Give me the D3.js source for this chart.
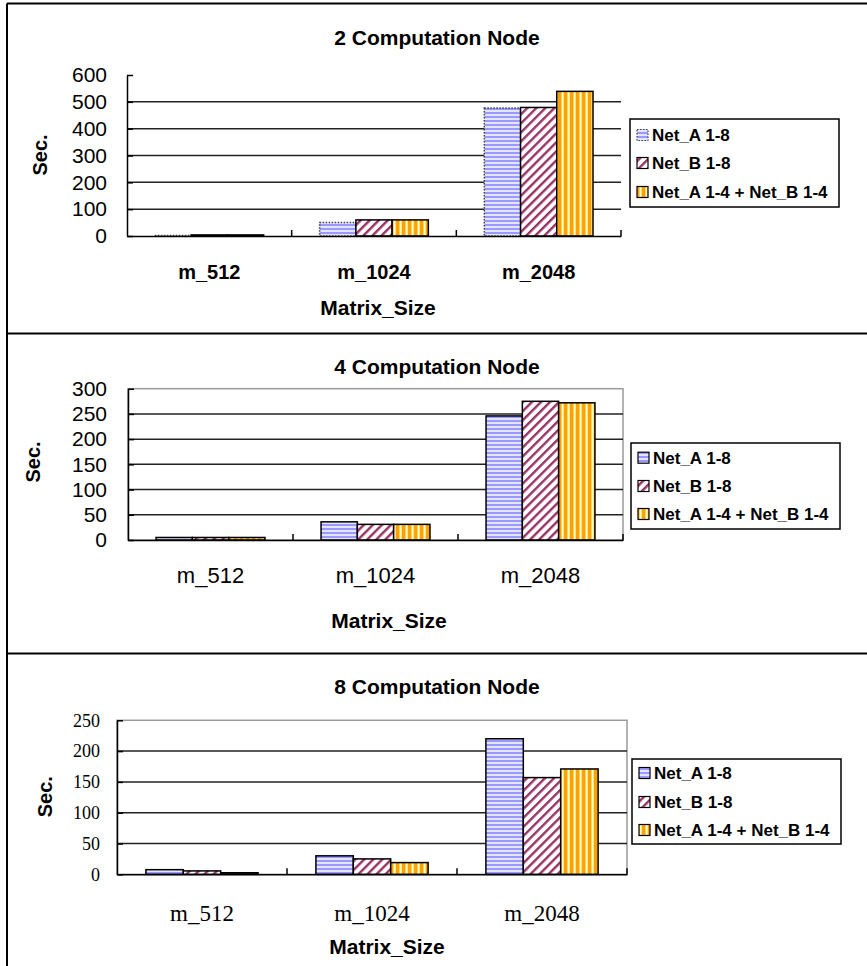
<!DOCTYPE html>
<html>
<head>
<meta charset="utf-8">
<script src="https://cdn.jsdelivr.net/npm/d3@7"></script>
<style>
  html, body { margin: 0; padding: 0; background: #fff; }
  svg { display: block; }
</style>
</head>
<body>
<svg id="chart" width="867" height="966"></svg>
<script>
// ---------------- DATA ----------------
const categories = ["m_512", "m_1024", "m_2048"];
const seriesNames = ["Net_A 1-8", "Net_B 1-8", "Net_A 1-4 + Net_B 1-4"];

const titles = ["2 Computation Node", "4 Computation Node", "8 Computation Node"];
const xTitle = "Matrix_Size";
const yTitle = "Sec.";

// 2 computation nodes
const node2_netA = [2, 50, 477];
const node2_netB = [4, 60, 479];
const node2_mix  = [4, 60, 539];
// 4 computation nodes
const node4_netA = [5, 36, 246];
const node4_netB = [5, 31, 275];
const node4_mix  = [5, 31, 272];
// 8 computation nodes
const node8_netA = [7.5, 30, 220];
const node8_netB = [5.5, 25, 157];
const node8_mix  = [2.5, 19, 171];

const ticks2 = [0, 100, 200, 300, 400, 500, 600];
const ticks4 = [0, 50, 100, 150, 200, 250, 300];
const ticks8 = [0, 50, 100, 150, 200, 250];

// ---------------- LAYOUT (positions / styles) ----------------
const SANS = "'Liberation Sans', Arial, Helvetica, sans-serif";
const SERIF = "'Liberation Serif', 'Times New Roman', serif";

const panels = [
  {
    values: [node2_netA, node2_netB, node2_mix], ticks: ticks2, title: titles[0],
    x0: 127, x1: 621, yTop: 75, yBot: 236,
    titleX: 437, titleY: 37,
    tickFont: SANS, tickSize: 21, tickPad: 20,
    catFont: SANS, catSize: 20, catWeight: "bold", catPad: 29,
    xtX: 378, xtY: 307, ytX: 40, ytY: 155,
    legend: { x: 630, y: 119, w: 209, h: 88, items: [135, 163, 192] },
    border: false, dottedA: true
  },
  {
    values: [node4_netA, node4_netB, node4_mix], ticks: ticks4, title: titles[1],
    x0: 128, x1: 623, yTop: 388.7, yBot: 540,
    titleX: 437, titleY: 366.7,
    tickFont: SANS, tickSize: 21, tickPad: 21,
    catFont: SANS, catSize: 22, catWeight: "normal", catPad: 27,
    xtX: 389, xtY: 620.7, ytX: 33, ytY: 462,
    legend: { x: 631, y: 443, w: 209, h: 86, items: [457.7, 486, 514] },
    border: true, dottedA: false
  },
  {
    values: [node8_netA, node8_netB, node8_mix], ticks: ticks8, title: titles[2],
    x0: 117, x1: 627, yTop: 720.3, yBot: 874.3,
    titleX: 437, titleY: 686.7,
    tickFont: SERIF, tickSize: 18, tickPad: 17,
    catFont: SERIF, catSize: 23, catWeight: "normal", catPad: 30,
    xtX: 387, xtY: 946.7, ytX: 45, ytY: 796.7,
    legend: { x: 632, y: 759, w: 209, h: 85, items: [773, 802, 830] },
    border: true, dottedA: false
  }
];

const svg = d3.select("#chart");

// ---------------- PATTERNS ----------------
const defs = svg.append("defs");
// Net_A: horizontal blue stripes
const pA = defs.append("pattern").attr("id", "patA")
  .attr("patternUnits", "userSpaceOnUse").attr("width", 8).attr("height", 4);
pA.append("rect").attr("width", 8).attr("height", 4).attr("fill", "#e4e4ff");
pA.append("rect").attr("width", 8).attr("height", 2).attr("fill", "#9999ff");
// Net_B: diagonal maroon stripes on white
const pB = defs.append("pattern").attr("id", "patB")
  .attr("patternUnits", "userSpaceOnUse").attr("width", 6.4).attr("height", 6.4)
  .attr("patternTransform", "rotate(45)");
pB.append("rect").attr("width", 6.4).attr("height", 6.4).attr("fill", "#ffffff");
pB.append("rect").attr("width", 2.4).attr("height", 6.4).attr("fill", "#993366");
// Net_A 1-4 + Net_B 1-4: orange with pale yellow vertical stripes
const pC = defs.append("pattern").attr("id", "patC")
  .attr("patternUnits", "userSpaceOnUse").attr("width", 6).attr("height", 8);
pC.append("rect").attr("width", 6).attr("height", 8).attr("fill", "#ffa200");
pC.append("rect").attr("x", 3.5).attr("width", 2.2).attr("height", 8).attr("fill", "#ffffc8");

const fills = ["url(#patA)", "url(#patB)", "url(#patC)"];

// ---------------- FRAMES ----------------
const frame = svg.append("g").attr("fill", "none").attr("stroke", "#000").attr("stroke-width", 2);
frame.append("line").attr("x1", 7).attr("x2", 870).attr("y1", 3.5).attr("y2", 3.5);
frame.append("line").attr("x1", 7).attr("x2", 870).attr("y1", 333.5).attr("y2", 333.5);
frame.append("line").attr("x1", 7).attr("x2", 870).attr("y1", 653.5).attr("y2", 653.5);
frame.append("line").attr("x1", 7).attr("x2", 7).attr("y1", 3.5).attr("y2", 970);

// ---------------- PANELS ----------------
panels.forEach(p => {
  const g = svg.append("g");
  const x = d3.scaleBand().domain(categories).range([p.x0, p.x1])
    .paddingInner(0.34).paddingOuter(0.17);
  const xs = d3.scaleBand().domain(d3.range(seriesNames.length)).range([0, x.bandwidth()]);
  const y = d3.scaleLinear().domain([0, d3.max(p.ticks)]).range([p.yBot, p.yTop]);

  // plot border (grey) for panels 2 and 3
  if (p.border) {
    g.append("rect").attr("x", p.x0).attr("y", y(d3.max(p.ticks)))
      .attr("width", p.x1 - p.x0).attr("height", p.yBot - y(d3.max(p.ticks)))
      .attr("fill", "none").attr("stroke", "#9a9a9a").attr("stroke-width", 1.5);
  }

  // gridlines
  g.append("g").selectAll("line")
    .data(p.ticks.filter(t => t > 0 && t < d3.max(p.ticks)))
    .join("line")
    .attr("x1", p.x0).attr("x2", p.x1)
    .attr("y1", d => y(d)).attr("y2", d => y(d))
    .attr("stroke", "#222").attr("stroke-width", 1.5);

  // bars
  p.values.forEach((vals, si) => {
    g.append("g").selectAll("rect")
      .data(categories.map((c, i) => ({ c, v: vals[i] })))
      .join("rect")
      .attr("x", d => x(d.c) + xs(si))
      .attr("y", d => y(d.v))
      .attr("width", xs.bandwidth())
      .attr("height", d => y(0) - y(d.v))
      .attr("fill", fills[si])
      .attr("stroke", (si === 0 && p.dottedA) ? "#444" : "#000")
      .attr("stroke-width", (si === 0 && p.dottedA) ? 1.5 : 1.5)
      .attr("stroke-dasharray", (si === 0 && p.dottedA) ? "1.5,1.5" : null);
  });

  // y axis
  const yAxis = d3.axisLeft(y).tickValues(p.ticks).tickSizeInner(-6).tickSizeOuter(0).tickPadding(p.tickPad);
  const ya = g.append("g").attr("transform", `translate(${p.x0},0)`).call(yAxis);
  ya.select(".domain").attr("stroke", "#000").attr("stroke-width", 1.5);
  ya.selectAll(".tick line").attr("stroke", "#000").attr("stroke-width", 1.5);
  ya.selectAll(".tick text").attr("font-family", p.tickFont).attr("font-size", p.tickSize)
    .attr("fill", "#000");

  // x axis (labels)
  const xAxis = d3.axisBottom(x).tickSize(0).tickPadding(p.catPad);
  const xa = g.append("g").attr("transform", `translate(0,${p.yBot})`).call(xAxis);
  xa.select(".domain").attr("stroke", "#000").attr("stroke-width", 1.5);
  xa.selectAll(".tick text").attr("font-family", p.catFont).attr("font-size", p.catSize)
    .attr("font-weight", p.catWeight).attr("fill", "#000");
  // x boundary ticks (inside)
  g.append("g").selectAll("line")
    .data(d3.range(1, categories.length + 1))
    .join("line")
    .attr("x1", i => x.range()[0] + i * x.step()).attr("x2", i => x.range()[0] + i * x.step())
    .attr("y1", p.yBot).attr("y2", p.yBot - 6)
    .attr("stroke", "#000").attr("stroke-width", 1.5);

  // titles
  g.append("text").attr("x", p.titleX).attr("y", p.titleY).attr("dy", "0.36em")
    .attr("text-anchor", "middle").attr("font-family", SANS).attr("font-weight", "bold")
    .attr("font-size", 21).text(p.title);
  g.append("text").attr("x", p.xtX).attr("y", p.xtY).attr("dy", "0.36em")
    .attr("text-anchor", "middle").attr("font-family", SANS).attr("font-weight", "bold")
    .attr("font-size", 21).text(xTitle);
  g.append("text").attr("transform", `translate(${p.ytX},${p.ytY}) rotate(-90)`).attr("dy", "0.36em")
    .attr("text-anchor", "middle").attr("font-family", SANS).attr("font-weight", "bold")
    .attr("font-size", 20).text(yTitle);

  // legend
  const L = p.legend;
  const lg = g.append("g");
  lg.append("rect").attr("x", L.x).attr("y", L.y).attr("width", L.w).attr("height", L.h)
    .attr("fill", "#fff").attr("stroke", "#000").attr("stroke-width", 1.5);
  const items = lg.selectAll("g.item").data(seriesNames).join("g").attr("class", "item");
  items.append("rect")
    .attr("x", L.x + 7).attr("y", (d, i) => L.items[i] - 5.5)
    .attr("width", 11).attr("height", 11)
    .attr("fill", (d, i) => fills[i])
    .attr("stroke", (d, i) => (i === 0 && p.dottedA) ? "#444" : "#000")
    .attr("stroke-width", 1.2)
    .attr("stroke-dasharray", (d, i) => (i === 0 && p.dottedA) ? "1.5,1.5" : null);
  items.append("text")
    .attr("x", L.x + 22).attr("y", (d, i) => L.items[i]).attr("dy", "0.36em")
    .attr("font-family", SANS).attr("font-weight", "bold").attr("font-size", 17)
    .attr("fill", "#000").text(d => d);
});
</script>
</body>
</html>
